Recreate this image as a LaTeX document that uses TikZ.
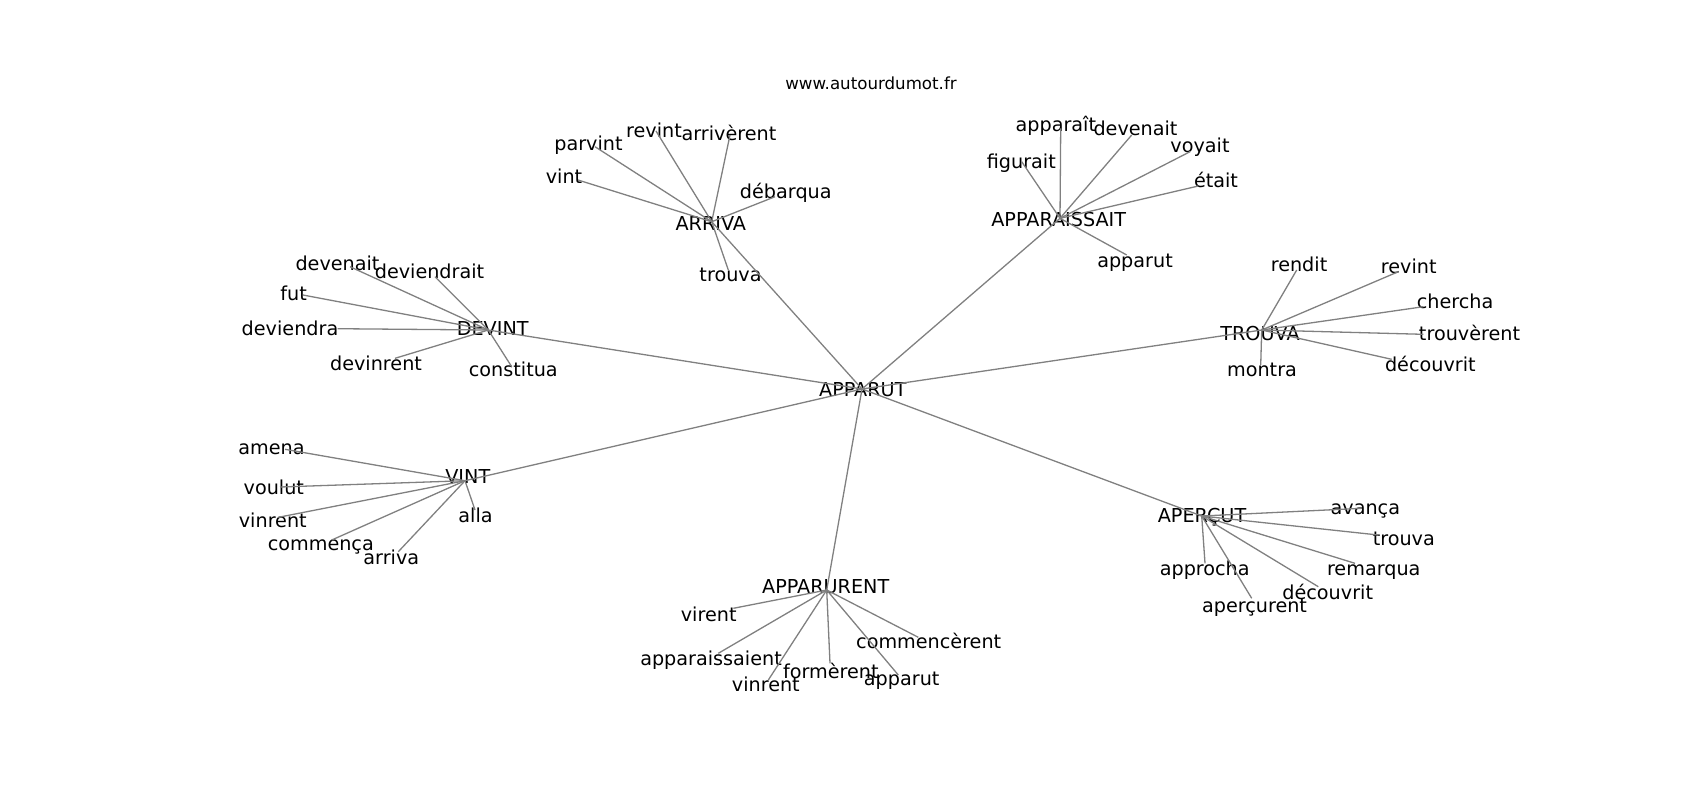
\documentclass[tikz,border=0pt]{standalone}
\usepackage{fontspec}
\setmainfont{DejaVu Sans}
\newcommand\lblfont{\fontsize{9.6}{11}\selectfont}
\newcommand\ttlfont{\fontsize{8.33}{10}\selectfont}
\newcommand\leaf[4]{\coordinate (#1) at (#2);\node[lbl] (#1-t) at (#3) {#4};}
\begin{document}
\begin{tikzpicture}[x=0.5pt,y=-0.5pt,
  edge/.style={draw=gray, line width=0.65pt},
  lbl/.style={inner sep=0pt, text height=0.76em, text depth=0pt, font=\lblfont, text=black},
  ttl/.style={inner sep=0pt, text height=0.76em, text depth=0pt, font=\ttlfont, text=black}]
\useasboundingbox (0,0) rectangle (1700,800);
\node[ttl] (title) at (871,82) {www.autourdumot.fr};
% hubs
\leaf{h-apparut}{862,389}{862.8,389.2}{APPARUT}
\leaf{h-arriva}{711.7,221.7}{710.8,222.5}{ARRIVA}
\leaf{h-appar}{1060,218.3}{1058.7,219.2}{APPARAISSAIT}
\leaf{h-devint}{488.3,330}{492.7,327.5}{DEVINT}
\leaf{h-trouva}{1261.7,330}{1260,332.5}{TROUVA}
\leaf{h-vint}{465,480.7}{467.8,475.8}{VINT}
\leaf{h-apercut}{1201.7,516}{1202,515}{APERÇUT}
\leaf{h-apparurent}{826.7,590}{825.7,586.2}{APPARURENT}
% ARRIVA
\leaf{a1}{578,180}{564,175.5}{vint}
\leaf{a2}{595,146.7}{588.5,142.5}{parvint}
\leaf{a3}{656,131}{654,130}{revint}
\leaf{a4}{730,135}{729,132.5}{arrivèrent}
\leaf{a5}{775,196.7}{785.8,190.8}{débarqua}
\leaf{a6}{728.3,270}{730.5,274.2}{trouva}
% APPARAISSAIT
\leaf{b1}{1060.7,128.3}{1055.8,124.2}{apparaît}
\leaf{b2}{1131.7,135}{1135.5,128}{devenait}
\leaf{b3}{1190,151.7}{1200,145}{voyait}
\leaf{b4}{1198.3,186}{1216,180}{était}
\leaf{b5}{1021.7,161.7}{1021.3,161.2}{figurait}
\leaf{b6}{1126.7,255}{1135,260}{apparut}
% DEVINT
\leaf{c1}{350,266.7}{337.5,262.5}{devenait}
\leaf{c2}{435,276.7}{429.5,270.5}{deviendrait}
\leaf{c3}{303,295}{293.7,292.5}{fut}
\leaf{c4}{337.7,328.7}{290,327.5}{deviendra}
\leaf{c5}{395,358.3}{376,363}{devinrent}
\leaf{c6}{511.7,366.7}{513.3,369}{constitua}
% TROUVA
\leaf{d1}{1296.7,270}{1299,264}{rendit}
\leaf{d2}{1398.3,271.7}{1408.7,265.8}{revint}
\leaf{d3}{1423.3,306.7}{1455,300.8}{chercha}
\leaf{d4}{1423.3,334.3}{1469.5,332.5}{trouvèrent}
\leaf{d5}{1391.7,359.3}{1430.3,364.2}{découvrit}
\leaf{d6}{1260.7,365}{1262,369.2}{montra}
% VINT
\leaf{e1}{285,449.3}{271.5,446.7}{amena}
\leaf{e2}{280,487}{273.8,487.2}{voulut}
\leaf{e3}{278.3,517.3}{272.8,520}{vinrent}
\leaf{e4}{331.7,540}{320.8,543.3}{commença}
\leaf{e5}{398.3,551.7}{391.3,556.7}{arriva}
\leaf{e6}{475,510}{475.5,514.7}{alla}
% APERÇUT
\leaf{f1}{1361.7,508.3}{1365.3,506.7}{avança}
\leaf{f2}{1378.3,535}{1403.8,538.3}{trouva}
\leaf{f3}{1355,563.3}{1373.7,567.7}{remarqua}
\leaf{f4}{1318.3,586.7}{1327.7,591.7}{découvrit}
\leaf{f5}{1251.7,598.3}{1254.5,604.7}{aperçurent}
\leaf{f6}{1205,563.3}{1204.7,568.3}{approcha}
% APPARURENT
\leaf{g1}{733.3,608.3}{708.7,613.8}{virent}
\leaf{g2}{718.3,653.3}{711,657.5}{apparaissaient}
\leaf{g3}{768.3,680}{765.8,684.2}{vinrent}
\leaf{g4}{830,663.3}{830.8,670.8}{formèrent}
\leaf{g5}{898.3,675}{901.7,678}{apparut}
\leaf{g6}{918.3,637.3}{928.7,641.3}{commencèrent}
% edges
\foreach \h in {h-arriva,h-appar,h-devint,h-trouva,h-vint,h-apercut,h-apparurent}
  \draw[edge] (h-apparut) -- (\h);
\foreach \l in {a1,a2,a3,a4,a5,a6} \draw[edge] (h-arriva) -- (\l);
\foreach \l in {b1,b2,b3,b4,b5,b6} \draw[edge] (h-appar) -- (\l);
\foreach \l in {c1,c2,c3,c4,c5,c6} \draw[edge] (h-devint) -- (\l);
\foreach \l in {d1,d2,d3,d4,d5,d6} \draw[edge] (h-trouva) -- (\l);
\foreach \l in {e1,e2,e3,e4,e5,e6} \draw[edge] (h-vint) -- (\l);
\foreach \l in {f1,f2,f3,f4,f5,f6} \draw[edge] (h-apercut) -- (\l);
\foreach \l in {g1,g2,g3,g4,g5,g6} \draw[edge] (h-apparurent) -- (\l);
\end{tikzpicture}
\end{document}
